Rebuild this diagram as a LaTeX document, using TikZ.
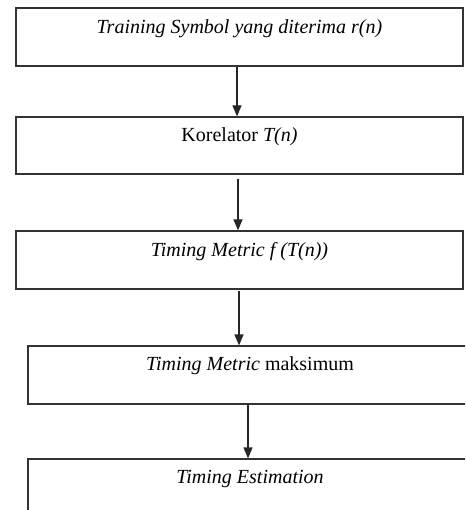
\documentclass[tikz,border=0pt]{standalone}
\usepackage{fontspec}
\setmainfont{Liberation Serif}
\usetikzlibrary{arrows.meta}
\begin{document}
\begin{tikzpicture}[x=1pt, y=-1pt]
    \tikzset{>={Triangle[width=9pt,length=11pt]}}
    \tikzset{kotak/.style={draw=black!80, line width=1.2pt, minimum height=58pt, inner sep=0pt}}
    \tikzset{teks/.style={font=\fontsize{20}{22}\selectfont, anchor=base, inner sep=0pt}}
    \tikzset{panah/.style={->, line width=1.2pt, draw=black!85}}
    \useasboundingbox (0,0) rectangle (465,510);
    \clip (0,0) rectangle (465,510);
    % kotak-kotak
    \node[kotak, minimum width=447pt] (B1) at (239.5,37) {};
    \node[kotak, minimum width=447pt, minimum height=57pt] (B2) at (239.5,145.5) {};
    \node[kotak, minimum width=447pt] (B3) at (239.5,260) {};
    \node[kotak, minimum width=450pt] (B4) at (253,375) {};
    \node[kotak, minimum width=450pt] (B5) at (253,488) {};
    % teks
    \node[teks] (T1) at ([yshift=-26pt]B1.north) {\textit{Training Symbol yang diterima r(n)}};
    \node[teks] (T2) at ([yshift=-25pt]B2.north) {Korelator \textit{T(n)}};
    \node[teks] (T3) at ([yshift=-26pt]B3.north) {\textit{Timing Metric f (T(n))}};
    \node[teks] (T4) at ([xshift=-3pt,yshift=-25pt]B4.north) {\textit{Timing Metric} maksimum};
    \node[teks] (T5) at ([xshift=-3pt,yshift=-25pt]B5.north) {\textit{Timing Estimation}};
    % panah
    \draw[panah] ([xshift=-2.5pt]B1.south) -- ([xshift=-2.5pt]B2.north);
    \draw[panah, shorten <=4pt] ([xshift=-1.5pt]B2.south) -- ([xshift=-1.5pt]B3.north);
    \draw[panah, shorten <=1pt] ([xshift=-0.5pt]B3.south) -- ([xshift=-14pt]B4.north);
    \draw[panah] ([xshift=-5pt]B4.south) -- ([xshift=-5pt]B5.north);
\end{tikzpicture}
\end{document}
